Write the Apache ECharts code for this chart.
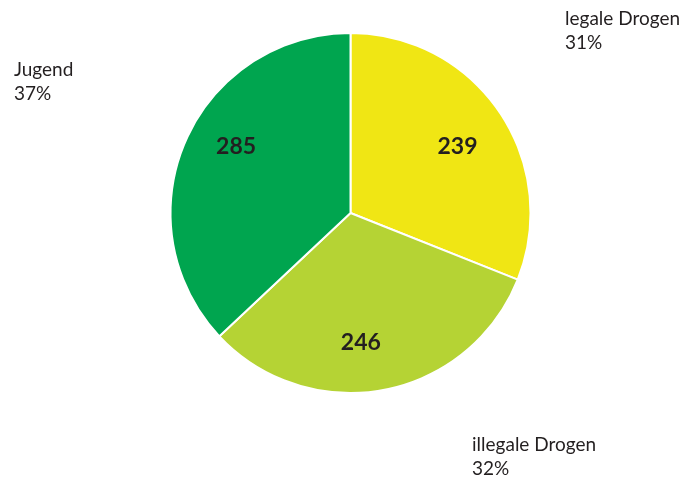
<!DOCTYPE html>
<html>
<head>
<meta charset="utf-8">
<script src="https://cdn.jsdelivr.net/npm/echarts@6/dist/echarts.min.js"></script>
<style>
html,body{margin:0;padding:0;background:#fff;}
#c{width:689px;height:482px;}
</style>
</head>
<body>
<div id="c"></div>
<script>
const categories = ['legale Drogen', 'illegale Drogen', 'Jugend'];
const values = [239, 246, 285];
const colors = ['#f0e614', '#b5d334', '#00a54f'];

const innerOffsets = [[30, -14], [-7, 38], [-29, -30]];
const outerPos = [[565, 7], [472, 433], [14, 58]];

const chart = echarts.init(document.getElementById('c'));
const data = categories.map((n, i) => ({ name: n, value: values[i], itemStyle: { color: colors[i] } }));
const textColor = '#231f20';

chart.setOption({
  animation: false,
  series: [
    {
      type: 'pie',
      center: [350.5, 213],
      radius: 180,
      startAngle: 90,
      clockwise: true,
      percentPrecision: 0,
      itemStyle: { borderColor: '#fff', borderWidth: 2 },
      label: {
        position: 'inside',
        formatter: '{c}',
        fontFamily: 'Lato',
        fontWeight: 'bold',
        fontSize: 23,
        color: textColor
      },
      labelLine: { show: false },
      emphasis: { disabled: true },
      data: data.map((d, i) => Object.assign({}, d, { label: { offset: innerOffsets[i] } }))
    },
    {
      type: 'pie',
      center: [350.5, 213],
      radius: 180,
      startAngle: 90,
      clockwise: true,
      percentPrecision: 0,
      silent: true,
      itemStyle: { color: 'transparent', borderWidth: 0 },
      label: {
        position: 'outside',
        formatter: '{b}\n{d}%',
        fontFamily: 'Lato',
        fontSize: 19,
        lineHeight: 24,
        color: textColor
      },
      labelLine: { show: false },
      labelLayout: function (p) {
        const pos = outerPos[p.dataIndex];
        return { x: pos[0], y: pos[1], align: 'left', verticalAlign: 'top' };
      },
      emphasis: { disabled: true },
      data: categories.map((n, i) => ({ name: n, value: values[i] }))
    }
  ]
});
</script>
</body>
</html>
